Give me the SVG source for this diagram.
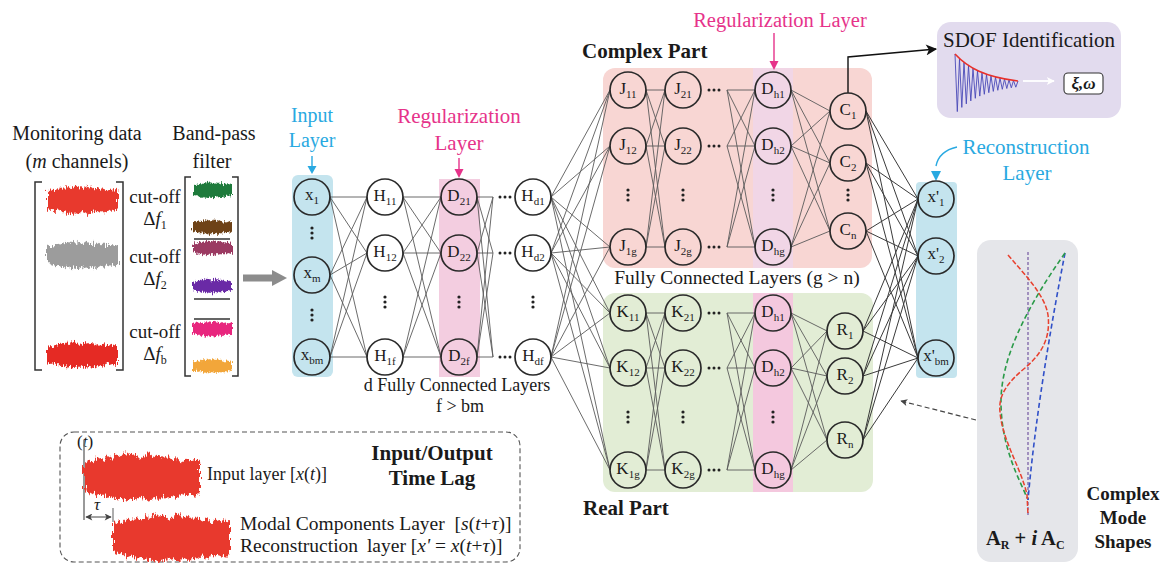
<svg xmlns="http://www.w3.org/2000/svg" xmlns:xlink="http://www.w3.org/1999/xlink" width="1167" height="564" viewBox="0 0 1167 564">
  <style>
    text { font-family: "Liberation Serif", "Times New Roman", serif; fill: #1a1a1a; }
    .lbl { font-size: 20px; }
    .mid { text-anchor: middle; }
    .blue { fill: #29a9e1; }
    .pink { fill: #e6338a; }
    .bold { font-weight: bold; }
    .it { font-style: italic; }
    .node circle { fill: none; stroke: #2a2a2a; stroke-width: 1.7; }
    .node text { font-size: 17px; text-anchor: middle; }
    .sub { font-size: 11px; }
    .wire { fill: none; stroke: #5a5a5a; stroke-width: 0.9; }
    .wire-dark { fill: none; stroke: #3a3a3a; stroke-width: 1; }
    .bracket { fill: none; stroke: #333; stroke-width: 1.5; }
    .dots circle { fill: #222; }
    .cut { font-size: 19px; text-anchor: middle; }
  </style>
  <defs>
    <filter id="jag" x="-5%" y="-60%" width="110%" height="220%" color-interpolation-filters="sRGB">
      <feTurbulence type="fractalNoise" baseFrequency="0.9 0.12" numOctaves="2" seed="7" result="n"/>
      <feDisplacementMap in="SourceGraphic" in2="n" scale="9" xChannelSelector="R" yChannelSelector="G"/>
    </filter>
    <filter id="jagSmall" x="-5%" y="-60%" width="110%" height="220%" color-interpolation-filters="sRGB">
      <feTurbulence type="fractalNoise" baseFrequency="0.9 0.15" numOctaves="2" seed="3" result="n"/>
      <feDisplacementMap in="SourceGraphic" in2="n" scale="6" xChannelSelector="R" yChannelSelector="G"/>
    </filter>
    <!-- generic vibration burst, 100 wide, centred on y=0 -->
    <path id="burst" d="M0,-8 L4,-10 8,-9 12,-12 16,-10 20,-13 24,-11 28,-14 32,-12 36,-15 40,-13 44,-14 48,-11 52,-13 56,-15 60,-12 64,-14 68,-11 72,-13 76,-10 80,-12 84,-9 88,-11 92,-10 96,-11 100,-9 L100,9 96,12 92,10 88,11 84,10 80,13 76,11 72,13 68,12 64,14 60,12 56,15 52,13 48,12 44,14 40,13 36,15 32,12 28,14 24,11 20,13 16,10 12,12 8,9 4,10 0,8 Z"/>
    <g id="vdots" class="dots"><circle cx="0" cy="-5" r="1.6"/><circle cx="0" cy="0" r="1.6"/><circle cx="0" cy="5" r="1.6"/></g>
    <g id="hdots" class="dots"><circle cx="-5" cy="0" r="1.5"/><circle cx="0" cy="0" r="1.5"/><circle cx="5" cy="0" r="1.5"/></g>
    <marker id="headBlack" viewBox="0 0 10 10" refX="9" refY="5" markerWidth="15" markerHeight="11" markerUnits="userSpaceOnUse" orient="auto">
      <path d="M0,0 L10,5 L0,10 L2.5,5 Z" fill="#111"/>
    </marker>
    <marker id="headWhite" viewBox="0 0 10 10" refX="9" refY="5" markerWidth="10" markerHeight="8" markerUnits="userSpaceOnUse" orient="auto">
      <path d="M0,0 L10,5 L0,10 L2.5,5 Z" fill="#fff"/>
    </marker>
    <marker id="headSmall" viewBox="0 0 10 10" refX="9" refY="5" markerWidth="9" markerHeight="7" markerUnits="userSpaceOnUse" orient="auto-start-reverse">
      <path d="M0,0 L10,5 L0,10 L2.5,5 Z" fill="#444"/>
    </marker>
  </defs>

  <rect width="1167" height="564" fill="#fff"/>

  <!-- ===== raw data and band-pass filtering ===== -->
  <g id="monitoring-data">
    <text class="lbl mid" x="77" y="140">Monitoring data</text>
    <text class="lbl mid" x="77" y="168">(<tspan class="it">m</tspan> channels)</text>
    <path class="bracket" d="M42,182 L35,182 L35,370 L42,370 M116,182 L123,182 L123,370 L116,370"/>
    <g filter="url(#jag)" fill="#e8392d"><use xlink:href="#burst" transform="translate(47,200) scale(0.71,1)"/></g>
    <g filter="url(#jag)" fill="#9c9c9c"><use xlink:href="#burst" transform="translate(47,255) scale(0.71,0.95)"/></g>
    <g filter="url(#jag)" fill="#e52a24"><use xlink:href="#burst" transform="translate(47,355) scale(0.71,0.9)"/></g>
  </g>

  <g id="cutoff-labels">
    <text class="cut" x="155" y="203">cut-off</text>
    <text class="cut" x="155" y="225">Δ<tspan class="it">f</tspan><tspan font-size="12" dy="4">1</tspan></text>
    <text class="cut" x="155" y="263">cut-off</text>
    <text class="cut" x="155" y="285">Δ<tspan class="it">f</tspan><tspan font-size="12" dy="4">2</tspan></text>
    <text class="cut" x="155" y="338">cut-off</text>
    <text class="cut" x="155" y="360">Δ<tspan class="it">f</tspan><tspan font-size="12" dy="4">b</tspan></text>
  </g>

  <g id="band-pass-filter">
    <text class="lbl mid" x="214" y="140">Band-pass</text>
    <text class="lbl mid" x="212" y="168">filter</text>
    <path class="bracket" d="M191,177 L185,177 L185,376 L191,376 M232,177 L238,177 L238,376 L232,376"/>
    <g filter="url(#jagSmall)" fill="#1e7b3c"><use xlink:href="#burst" transform="translate(193,190) scale(0.39,0.55)"/></g>
    <g filter="url(#jagSmall)" fill="#6e4217"><use xlink:href="#burst" transform="translate(193,227) scale(0.39,0.5)"/></g>
    <g filter="url(#jagSmall)" fill="#9b3a62"><use xlink:href="#burst" transform="translate(193,248) scale(0.39,0.5)"/></g>
    <g filter="url(#jagSmall)" fill="#6a2aa6"><use xlink:href="#burst" transform="translate(193,286) scale(0.39,0.5)"/></g>
    <g filter="url(#jagSmall)" fill="#e8267e"><use xlink:href="#burst" transform="translate(193,329) scale(0.39,0.55)"/></g>
    <g filter="url(#jagSmall)" fill="#f2a63a"><use xlink:href="#burst" transform="translate(193,366) scale(0.39,0.5)"/></g>
    <path d="M194,239 H230 M194,299 H230 M194,319 H230" stroke="#333" stroke-width="1.3"/>
  </g>

  <g id="feed-arrow">
    <polygon points="243,274.5 272,274.5 272,270 287,278 272,286 272,281.5 243,281.5" fill="#8c8c8c"/>
  </g>

  <!-- ===== layer backgrounds ===== -->
  <g id="backgrounds">
    <rect x="292" y="175" width="41" height="202" rx="6" fill="#c4e4ee"/>
    <rect x="439" y="179" width="41" height="198" fill="#f3cde0"/>
    <rect x="603" y="68" width="269" height="200" rx="12" fill="#f8d6d3"/>
    <rect x="753" y="68" width="40" height="200" fill="#f1d6e6"/>
    <rect x="603" y="293" width="270" height="199" rx="12" fill="#e2edd5"/>
    <rect x="753" y="293" width="40" height="199" fill="#f4c8de"/>
    <rect x="916" y="182" width="41" height="196" rx="4" fill="#c4e4ee"/>
  </g>

  <!-- ===== layer titles ===== -->
  <g id="titles">
    <text class="lbl mid blue" x="312" y="122">Input</text>
    <text class="lbl mid blue" x="312" y="147">Layer</text>
    <path d="M312,156 V168" stroke="#29a9e1" stroke-width="1.4"/>
    <polygon points="307.5,166 316.5,166 312,174" fill="#29a9e1"/>

    <text class="mid pink" x="459" y="123" font-size="21">Regularization</text>
    <text class="mid pink" x="459" y="150" font-size="21">Layer</text>
    <path d="M459,158 V171" stroke="#e6338a" stroke-width="1.4"/>
    <polygon points="454.5,169 463.5,169 459,178" fill="#e6338a"/>

    <text class="mid" x="457" y="391" font-size="18">d Fully Connected Layers</text>
    <text class="mid" x="460" y="412" font-size="18">f &gt; bm</text>

    <text class="bold" x="582" y="58" font-size="21">Complex Part</text>
    <text class="bold" x="583" y="515" font-size="21">Real Part</text>
    <text class="mid pink" x="780" y="27" font-size="20.5">Regularization Layer</text>
    <path d="M774,33 V62" stroke="#e6338a" stroke-width="1.4"/>
    <polygon points="769.5,61 778.5,61 774,70" fill="#e6338a"/>
    <text class="mid" x="737" y="284" font-size="19.5">Fully Connected Layers (g &gt; n)</text>

    <text class="mid blue" x="1026" y="154" font-size="21">Reconstruction</text>
    <text class="mid blue" x="1027" y="180" font-size="21">Layer</text>
    <path d="M957,147 Q939,151 936,166" fill="none" stroke="#29a9e1" stroke-width="1.4"/>
    <polygon points="931,171 941,171 936,181" fill="#29a9e1"/>
  </g>

  <!-- ===== connectors ===== -->
  <g id="connectors">
    <path class="wire" d="M330,197L367,197M330,197L367,253M330,197L367,357M330,275L367,197M330,275L367,253M330,275L367,357M330,357L367,197M330,357L367,253M330,357L367,357"/>
    <path class="wire" d="M403,197L441,197M403,197L441,253M403,197L441,357M403,253L441,197M403,253L441,253M403,253L441,357M403,357L441,197M403,357L441,253M403,357L441,357"/>
    <path class="wire" d="M477,197L493,197M477,197L493,253M477,197L493,357M477,253L493,197M477,253L493,253M477,253L493,357M477,357L493,197M477,357L493,253M477,357L493,357"/>
    <path class="wire" d="M551,197L610,90M551,197L610,146M551,197L610,247M551,197L610,313M551,197L610,368M551,197L610,470M551,253L610,90M551,253L610,146M551,253L610,247M551,253L610,313M551,253L610,368M551,253L610,470M551,357L610,90M551,357L610,146M551,357L610,247M551,357L610,313M551,357L610,368M551,357L610,470"/>
    <path class="wire" d="M646,90L665,90M646,90L665,146M646,90L665,247M646,146L665,90M646,146L665,146M646,146L665,247M646,247L665,90M646,247L665,146M646,247L665,247"/>
    <path class="wire" d="M727,90L755,90M727,90L755,146M727,90L755,247M727,146L755,90M727,146L755,146M727,146L755,247M727,247L755,90M727,247L755,146M727,247L755,247"/>
    <path class="wire" d="M791,90L830,111M791,90L830,163M791,90L830,231M791,146L830,111M791,146L830,163M791,146L830,231M791,247L830,111M791,247L830,163M791,247L830,231"/>
    <path class="wire" d="M646,313L665,313M646,313L665,368M646,313L665,470M646,368L665,313M646,368L665,368M646,368L665,470M646,470L665,313M646,470L665,368M646,470L665,470"/>
    <path class="wire" d="M727,313L755,313M727,313L755,368M727,313L755,470M727,368L755,313M727,368L755,368M727,368L755,470M727,470L755,313M727,470L755,368M727,470L755,470"/>
    <path class="wire" d="M791,313L827,331M791,313L827,376M791,313L827,440M791,368L827,331M791,368L827,376M791,368L827,440M791,470L827,331M791,470L827,376M791,470L827,440"/>
    <path class="wire-dark" d="M866,111L918,199M866,111L918,256M866,111L918,358M866,163L918,199M866,163L918,256M866,163L918,358M866,231L918,199M866,231L918,256M866,231L918,358"/>
    <path class="wire-dark" d="M863,331L918,199M863,331L918,256M863,331L918,358M863,376L918,199M863,376L918,256M863,376L918,358M863,440L918,199M863,440L918,256M863,440L918,358"/>
    <path d="M848,93 L848,57 L936,49" fill="none" stroke="#111" stroke-width="1.4" marker-end="url(#headBlack)"/>
    <path d="M976,420 L901,401" fill="none" stroke="#444" stroke-width="1.2" stroke-dasharray="5,3" marker-end="url(#headSmall)"/>
  </g>

  <!-- ===== nodes: input layer ===== -->
  <g id="node-x1" class="node"><circle cx="312" cy="197" r="18"/><text x="312" y="200">x<tspan class="sub" dy="4">1</tspan></text></g>
  <g id="node-xm" class="node"><circle cx="312" cy="275" r="18"/><text x="312" y="278">x<tspan class="sub" dy="4">m</tspan></text></g>
  <g id="node-xbm" class="node"><circle cx="312" cy="357" r="18"/><text x="312" y="360">x<tspan class="sub" dy="4">bm</tspan></text></g>
  <use xlink:href="#vdots" x="312" y="233"/>
  <use xlink:href="#vdots" x="312" y="315"/>

  <!-- first hidden layer -->
  <g id="node-H11" class="node"><circle cx="385" cy="197" r="18"/><text x="385" y="201">H<tspan class="sub" dy="4">11</tspan></text></g>
  <g id="node-H12" class="node"><circle cx="385" cy="253" r="18"/><text x="385" y="257">H<tspan class="sub" dy="4">12</tspan></text></g>
  <g id="node-H1f" class="node"><circle cx="385" cy="357" r="18"/><text x="385" y="361">H<tspan class="sub" dy="4">1f</tspan></text></g>
  <use xlink:href="#vdots" x="385" y="302"/>

  <!-- regularization layer -->
  <g id="node-D21" class="node"><circle cx="459" cy="197" r="18"/><text x="459" y="201">D<tspan class="sub" dy="4">21</tspan></text></g>
  <g id="node-D22" class="node"><circle cx="459" cy="253" r="18"/><text x="459" y="257">D<tspan class="sub" dy="4">22</tspan></text></g>
  <g id="node-D2f" class="node"><circle cx="459" cy="357" r="18"/><text x="459" y="361">D<tspan class="sub" dy="4">2f</tspan></text></g>
  <use xlink:href="#vdots" x="459" y="302"/>

  <!-- last hidden layer -->
  <use xlink:href="#hdots" x="505" y="197"/>
  <use xlink:href="#hdots" x="505" y="253"/>
  <use xlink:href="#hdots" x="505" y="357"/>
  <g id="node-Hd1" class="node"><circle cx="533" cy="197" r="18"/><text x="533" y="201">H<tspan class="sub" dy="4">d1</tspan></text></g>
  <g id="node-Hd2" class="node"><circle cx="533" cy="253" r="18"/><text x="533" y="257">H<tspan class="sub" dy="4">d2</tspan></text></g>
  <g id="node-Hdf" class="node"><circle cx="533" cy="357" r="18"/><text x="533" y="361">H<tspan class="sub" dy="4">df</tspan></text></g>
  <use xlink:href="#vdots" x="533" y="302"/>

  <!-- ===== complex branch ===== -->
  <g id="node-J11" class="node"><circle cx="628" cy="90" r="18"/><text x="628" y="94">J<tspan class="sub" dy="4">11</tspan></text></g>
  <g id="node-J12" class="node"><circle cx="628" cy="146" r="18"/><text x="628" y="150">J<tspan class="sub" dy="4">12</tspan></text></g>
  <g id="node-J1g" class="node"><circle cx="628" cy="247" r="18"/><text x="628" y="251">J<tspan class="sub" dy="4">1g</tspan></text></g>
  <use xlink:href="#vdots" x="628" y="195"/>
  <g id="node-J21" class="node"><circle cx="683" cy="90" r="18"/><text x="683" y="94">J<tspan class="sub" dy="4">21</tspan></text></g>
  <g id="node-J22" class="node"><circle cx="683" cy="146" r="18"/><text x="683" y="150">J<tspan class="sub" dy="4">22</tspan></text></g>
  <g id="node-J2g" class="node"><circle cx="683" cy="247" r="18"/><text x="683" y="251">J<tspan class="sub" dy="4">2g</tspan></text></g>
  <use xlink:href="#vdots" x="683" y="195"/>
  <use xlink:href="#hdots" x="714" y="90"/>
  <use xlink:href="#hdots" x="714" y="146"/>
  <use xlink:href="#hdots" x="714" y="247"/>
  <g id="node-Dc1" class="node"><circle cx="773" cy="90" r="18"/><text x="773" y="94">D<tspan class="sub" dy="4">h1</tspan></text></g>
  <g id="node-Dc2" class="node"><circle cx="773" cy="146" r="18"/><text x="773" y="150">D<tspan class="sub" dy="4">h2</tspan></text></g>
  <g id="node-Dcg" class="node"><circle cx="773" cy="247" r="18"/><text x="773" y="251">D<tspan class="sub" dy="4">hg</tspan></text></g>
  <use xlink:href="#vdots" x="773" y="195"/>
  <g id="node-C1" class="node"><circle cx="848" cy="111" r="18"/><text x="848" y="115">C<tspan class="sub" dy="4">1</tspan></text></g>
  <g id="node-C2" class="node"><circle cx="848" cy="163" r="18"/><text x="848" y="167">C<tspan class="sub" dy="4">2</tspan></text></g>
  <g id="node-Cn" class="node"><circle cx="848" cy="231" r="18"/><text x="848" y="235">C<tspan class="sub" dy="4">n</tspan></text></g>
  <use xlink:href="#vdots" x="848" y="195"/>

  <!-- ===== real branch ===== -->
  <g id="node-K11" class="node"><circle cx="628" cy="313" r="18"/><text x="628" y="317">K<tspan class="sub" dy="4">11</tspan></text></g>
  <g id="node-K12" class="node"><circle cx="628" cy="368" r="18"/><text x="628" y="372">K<tspan class="sub" dy="4">12</tspan></text></g>
  <g id="node-K1g" class="node"><circle cx="628" cy="470" r="18"/><text x="628" y="474">K<tspan class="sub" dy="4">1g</tspan></text></g>
  <use xlink:href="#vdots" x="628" y="417"/>
  <g id="node-K21" class="node"><circle cx="683" cy="313" r="18"/><text x="683" y="317">K<tspan class="sub" dy="4">21</tspan></text></g>
  <g id="node-K22" class="node"><circle cx="683" cy="368" r="18"/><text x="683" y="372">K<tspan class="sub" dy="4">22</tspan></text></g>
  <g id="node-K2g" class="node"><circle cx="683" cy="470" r="18"/><text x="683" y="474">K<tspan class="sub" dy="4">2g</tspan></text></g>
  <use xlink:href="#vdots" x="683" y="417"/>
  <use xlink:href="#hdots" x="714" y="313"/>
  <use xlink:href="#hdots" x="714" y="368"/>
  <use xlink:href="#hdots" x="714" y="470"/>
  <g id="node-Dr1" class="node"><circle cx="773" cy="313" r="18"/><text x="773" y="317">D<tspan class="sub" dy="4">h1</tspan></text></g>
  <g id="node-Dr2" class="node"><circle cx="773" cy="368" r="18"/><text x="773" y="372">D<tspan class="sub" dy="4">h2</tspan></text></g>
  <g id="node-Drg" class="node"><circle cx="773" cy="470" r="18"/><text x="773" y="474">D<tspan class="sub" dy="4">hg</tspan></text></g>
  <use xlink:href="#vdots" x="773" y="417"/>
  <g id="node-R1" class="node"><circle cx="845" cy="331" r="18"/><text x="845" y="335">R<tspan class="sub" dy="4">1</tspan></text></g>
  <g id="node-R2" class="node"><circle cx="845" cy="376" r="18"/><text x="845" y="380">R<tspan class="sub" dy="4">2</tspan></text></g>
  <g id="node-Rn" class="node"><circle cx="845" cy="440" r="18"/><text x="845" y="444">R<tspan class="sub" dy="4">n</tspan></text></g>

  <!-- ===== reconstruction layer ===== -->
  <g id="node-xr1" class="node"><circle cx="936" cy="199" r="18"/><text x="936" y="202">x'<tspan class="sub" dy="4">1</tspan></text></g>
  <g id="node-xr2" class="node"><circle cx="936" cy="256" r="18"/><text x="936" y="259">x'<tspan class="sub" dy="4">2</tspan></text></g>
  <g id="node-xrbm" class="node"><circle cx="936" cy="358" r="18"/><text x="936" y="361">x'<tspan class="sub" dy="4">bm</tspan></text></g>

  <!-- ===== SDOF identification ===== -->
  <g id="sdof">
    <rect x="937" y="22" width="184" height="96" rx="14" fill="#e2dbee"/>
    <text class="mid" x="1029" y="47" font-size="21">SDOF Identification</text>
    <polyline fill="none" stroke="#4a4ab8" stroke-width="0.9" points="955,54 957.3,111.6 959.5,58.6 961.8,107.4 964,62.4 966.3,103.9 968.5,65.7 970.8,100.9 973,68.5 975.3,98.3 977.5,70.8 979.8,96.1 982,72.8 984.3,94.3 986.5,74.5 988.8,92.7 991,76 993.3,91.4 995.5,77.2 997.8,90.3 1000,78.2 1002.3,89.3 1004.5,79.1 1006.8,88.5 1009,79.9 1011.3,87.8 1013.5,80.5 1015.8,87.2 1018,81"/>
    <path d="M955,54 C968,68 985,77 1018,81" fill="none" stroke="#e8302a" stroke-width="1.6"/>
    <path d="M1023,81 L1054,81" stroke="#fff" stroke-width="1.8" marker-end="url(#headWhite)"/>
    <rect x="1064" y="73" width="39" height="21" rx="4" fill="#fff" stroke="#333" stroke-width="1.1"/>
    <text class="mid bold it" x="1083.5" y="89" font-size="17">ξ,ω</text>
  </g>

  <!-- ===== complex mode shapes ===== -->
  <g id="mode-shapes">
    <rect x="977" y="240" width="101" height="322" rx="14" fill="#e5e6ea"/>
    <path d="M1028,252 V515" stroke="#6a4a9a" stroke-width="1.1" stroke-dasharray="3,2" fill="none"/>
    <path d="M1065,253 C1050,330 1035,420 1028,500" stroke="#3050c8" stroke-width="1.6" stroke-dasharray="5,3" fill="none"/>
    <path d="M1065,253 C1025,310 1000,360 1001,405 C1002,450 1020,480 1027,498" stroke="#2a9a48" stroke-width="1.6" stroke-dasharray="5,3" fill="none"/>
    <path d="M1008,255 C1025,275 1045,295 1048,315 C1051,340 1040,355 1025,368 C1008,382 998,395 1000,412 C1002,440 1022,470 1027,495 L1028,515" stroke="#e8402e" stroke-width="1.5" stroke-dasharray="5,2" fill="none"/>
    <text class="bold" x="986" y="545" font-size="20.5">A<tspan font-size="12" dy="4">R</tspan><tspan dy="-4"> + </tspan><tspan class="it">i</tspan> A<tspan font-size="12" dy="4">C</tspan></text>
    <text class="mid bold" x="1123" y="500" font-size="19">Complex</text>
    <text class="mid bold" x="1123" y="524" font-size="19">Mode</text>
    <text class="mid bold" x="1123" y="548" font-size="19">Shapes</text>
  </g>

  <!-- ===== input / output time lag ===== -->
  <g id="time-lag">
    <rect x="60" y="432" width="460" height="130" rx="14" fill="none" stroke="#555" stroke-width="1.1" stroke-dasharray="5,3"/>
    <text x="77" y="447" font-size="17">(<tspan class="it">t</tspan>)</text>
    <path d="M84,440 V520" stroke="#777" stroke-width="1.5"/>
    <path d="M113,508 V522" stroke="#777" stroke-width="1.2"/>
    <g filter="url(#jag)" fill="#e8392d"><use xlink:href="#burst" transform="translate(84,477) scale(1.16,1.65)"/></g>
    <g filter="url(#jag)" fill="#e8392d"><use xlink:href="#burst" transform="translate(113,538) scale(1.17,1.65)"/></g>
    <text class="it" x="94" y="510" font-size="17">τ</text>
    <path d="M86,517 L111,517" stroke="#444" stroke-width="1" marker-start="url(#headSmall)" marker-end="url(#headSmall)"/>
    <text x="207" y="480" font-size="18">Input layer [<tspan class="it">x</tspan>(<tspan class="it">t</tspan>)]</text>
    <text class="mid bold" x="432" y="460" font-size="21">Input/Output</text>
    <text class="mid bold" x="432" y="485" font-size="21">Time Lag</text>
    <text x="240" y="530" font-size="19.5">Modal Components Layer <tspan dx="5">[</tspan><tspan class="it">s</tspan>(<tspan class="it">t</tspan>+<tspan class="it">τ</tspan>)]</text>
    <text x="240" y="552" font-size="19.5">Reconstruction <tspan dx="4">layer [</tspan><tspan class="it">x'</tspan> = <tspan class="it">x</tspan>(<tspan class="it">t</tspan>+<tspan class="it">τ</tspan>)]</text>
  </g>
</svg>
